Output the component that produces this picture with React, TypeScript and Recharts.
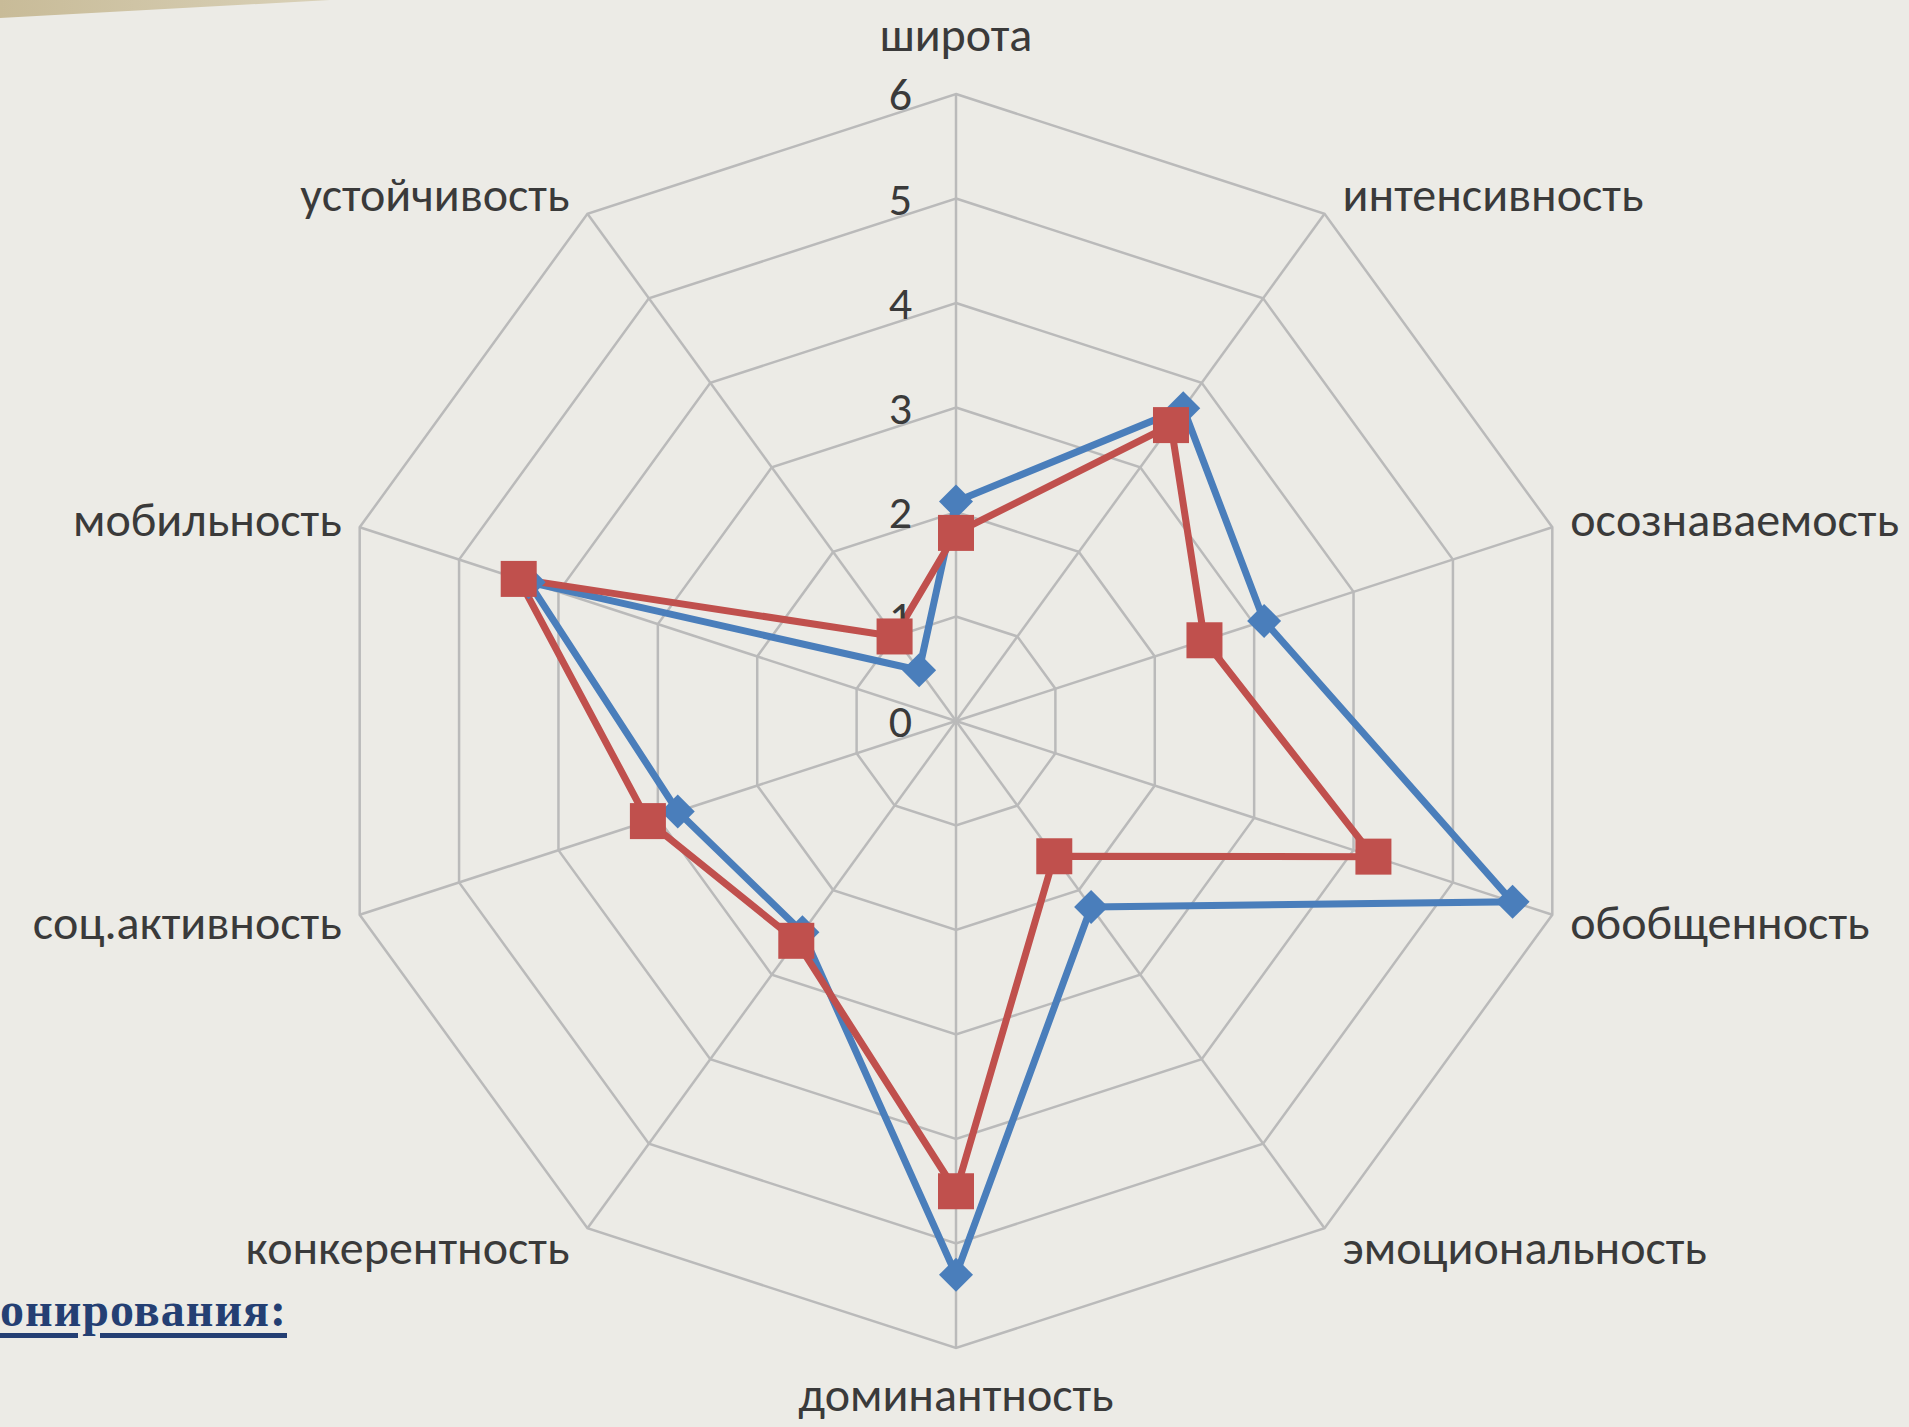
import React from 'react';
import { RadarChart, Radar, PolarGrid, PolarAngleAxis, PolarRadiusAxis } from 'recharts';

const categories = [
  'широта',
  'интенсивность',
  'осознаваемость',
  'обобщенность',
  'эмоциональность',
  'доминантность',
  'конкерентность',
  'соц.активность',
  'мобильность',
  'устойчивость',
];
const seriesBlue = [2.1, 3.7, 3.1, 5.6, 2.2, 5.3, 2.5, 2.8, 4.3, 0.6];
const seriesRed = [1.8, 3.5, 2.5, 4.2, 1.6, 4.5, 2.6, 3.1, 4.4, 1.0];
const radiusTicks = [0, 1, 2, 3, 4, 5, 6];

const data = categories.map((name, i) => ({ name, blue: seriesBlue[i], red: seriesRed[i] }));

const CX = 956;
const CY = 721;
const R = 627;
const FONT = "Carlito, 'Liberation Sans Narrow', 'Open Sans', sans-serif";

// category label next to the outer vertex
const AngleTick = (props: any) => {
  const a = (props.payload.coordinate * Math.PI) / 180;
  const vx = CX + R * Math.cos(a);
  const vy = CY - R * Math.sin(a);
  const c = Math.cos(a);
  let x = vx;
  let y = vy - 24 * Math.sin(a);
  let anchor: 'start' | 'middle' | 'end' = 'middle';
  if (Math.abs(c) < 0.01) {
    y = Math.sin(a) > 0 ? vy - 60 : vy + 46;
  } else if (c > 0) {
    anchor = 'start';
    x = vx + 18;
  } else {
    anchor = 'end';
    x = vx - 18;
  }
  return (
    <text x={x} y={y} textAnchor={anchor} dominantBaseline="central" fontSize={48} fill="#3a3a3a" fontFamily={FONT}>
      {props.payload.value}
    </text>
  );
};

const RadiusTick = (props: any) => (
  <text x={CX - 44} y={props.y} textAnchor="end" dominantBaseline="central" fontSize={46} fill="#3a3a3a" fontFamily={FONT}>
    {props.payload.value}
  </text>
);

const Diamond = (props: any) => {
  const { cx, cy } = props;
  const s = 17;
  return <path key={`d-${props.index}`} d={`M${cx},${cy - s} L${cx + s},${cy} L${cx},${cy + s} L${cx - s},${cy} Z`} fill="#4a7ebb" />;
};

const Square = (props: any) => {
  const { cx, cy } = props;
  const s = 18;
  return <rect key={`s-${props.index}`} x={cx - s} y={cy - s} width={2 * s} height={2 * s} fill="#c0504d" />;
};

export default function App() {
  return (
    <div style={{ position: 'fixed', left: 0, top: 0, width: 1909, height: 1427, background: '#ecebe6', overflow: 'hidden' }}>
      <div
        style={{
          position: 'absolute', left: 0, top: 0, width: 330, height: 18,
          background: 'linear-gradient(90deg, #c8bb98, #d9d1b8)',
          clipPath: 'polygon(0 0, 100% 0, 0 100%)',
        }}
      />
      <RadarChart width={1909} height={1427} data={data} cx={CX} cy={CY} outerRadius={R} margin={{ top: 0, right: 0, bottom: 0, left: 0 }}>
        <PolarGrid gridType="polygon" stroke="#bababa" strokeWidth={2.5} />
        <PolarAngleAxis dataKey="name" tick={AngleTick} tickLine={false} axisLine={false} />
        <PolarRadiusAxis angle={90} domain={[0, 6]} ticks={radiusTicks} tickCount={7} tick={RadiusTick} axisLine={false} tickLine={false} />
        <Radar dataKey="blue" stroke="#4a7ebb" strokeWidth={7} fill="none" fillOpacity={0} dot={Diamond} isAnimationActive={false} />
        <Radar dataKey="red" stroke="#c0504d" strokeWidth={7} fill="none" fillOpacity={0} dot={Square} isAnimationActive={false} />
      </RadarChart>
      <div
        style={{
          position: 'absolute', left: 0, top: 1282, fontFamily: "'Liberation Serif', 'DejaVu Serif', serif",
          fontWeight: 'bold', fontSize: 48, letterSpacing: 1, color: '#243f73', textDecoration: 'underline',
          textDecorationThickness: 5, textUnderlineOffset: 7, whiteSpace: 'nowrap',
        }}
      >
        онирования:
      </div>
    </div>
  );
}
